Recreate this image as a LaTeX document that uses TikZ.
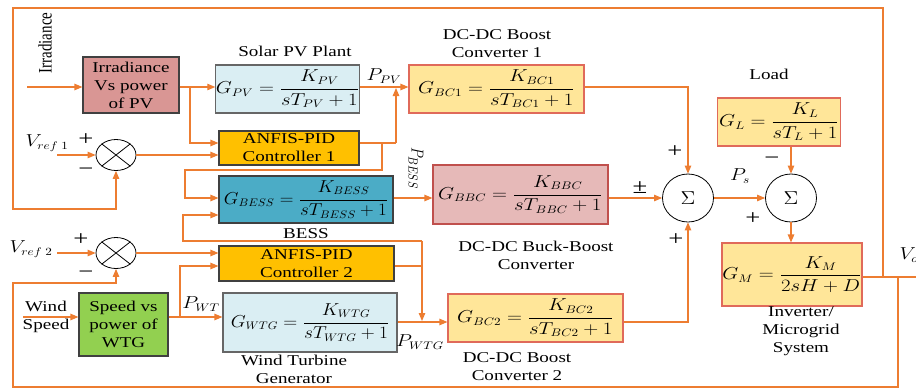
\documentclass[tikz,border=0pt]{standalone}
\usepackage{fontspec}
\setmainfont{Liberation Serif}[FakeStretch=1.27]
\newfontfamily\plainserif{Liberation Serif}
\usetikzlibrary{arrows.meta,shapes.geometric}
\definecolor{lnc}{HTML}{ED7D31}
\definecolor{irrf}{HTML}{D99694}
\definecolor{pvf}{HTML}{DAEEF3}
\definecolor{anf}{HTML}{FFC000}
\definecolor{bessf}{HTML}{4BACC6}
\definecolor{yelf}{HTML}{FFE699}
\definecolor{bbcf}{HTML}{E6B9B8}
\definecolor{grnf}{HTML}{92D050}
\definecolor{redb}{HTML}{E06A5A}
\definecolor{bbcb}{HTML}{C0504D}
\definecolor{dk}{HTML}{404040}
\newcommand\mxs[2]{\scalebox{#1}[1]{\fontsize{16}{19}\selectfont$\displaystyle #2$}}
\newcommand\mx[1]{\mxs{1.2}{#1}}
\newcommand\bigsig{\scalebox{1.45}[1.3]{\fontsize{15}{18}\selectfont$\Sigma$}}
\begin{document}
\begin{tikzpicture}[x=1pt,y=-1pt,
  every node/.style={font=\fontsize{15}{18}\selectfont},
  ln/.style={draw=lnc, line width=1.1pt},
  arr/.style={ln, -{Triangle[length=8pt,width=6.5pt]}},
  box/.style={draw=dk, line width=1.1pt, inner sep=0pt, align=center},
  sumx/.style={draw, ellipse, line width=0.8pt, inner sep=0pt, minimum width=40pt, minimum height=31pt},
  sigma/.style={draw, ellipse, line width=0.8pt, inner sep=0pt, minimum width=51pt, minimum height=48pt},
  lab/.style={align=center, inner sep=0pt},
  sgn/.style={inner sep=0pt, font=\fontsize{21}{21}\selectfont}]
\useasboundingbox (0,0) rectangle (916,389);

% blocks
\node[box, fill=irrf, minimum width=96pt, minimum height=56pt] (irr) at (131,85) {Irradiance\\Vs power\\of PV};
\node[box, fill=pvf, draw=gray!80!black, minimum width=141pt, minimum height=48pt] (gpv) at (287.5,89) {\mx{G_{PV}=\frac{K_{PV}}{sT_{PV}+1}}};
\node[box, fill=yelf, draw=redb, minimum width=175pt, minimum height=48pt] (bc1) at (496.5,89) {\mx{G_{BC1}=\frac{K_{BC1}}{sT_{BC1}+1}}};
\node[box, fill=anf, minimum width=140pt, minimum height=34pt] (anfis1) at (289,148) {ANFIS-PID\\Controller 1};
\node[box, fill=bessf, minimum width=174pt, minimum height=47pt] (gbess) at (306,199.5) {\mxs{1.1}{G_{BESS}=\frac{K_{BESS}}{sT_{BESS}+1}}};
\node[box, fill=bbcf, draw=bbcb, minimum width=175pt, minimum height=59pt] (bbc) at (520.5,194.5) {\mx{G_{BBC}=\frac{K_{BBC}}{sT_{BBC}+1}}};
\node[box, fill=anf, minimum width=175pt, minimum height=35pt] (anfis2) at (306.5,263.5) {ANFIS-PID\\Controller 2};
\node[box, fill=grnf, minimum width=89pt, minimum height=63pt] (wtgp) at (123.5,324.5) {Speed vs\\power of\\WTG};
\node[box, fill=pvf, draw=gray!80!black, minimum width=174pt, minimum height=59pt] (gwtg) at (310,322.5) {\mxs{1.12}{G_{WTG}=\frac{K_{WTG}}{sT_{WTG}+1}}};
\node[box, fill=yelf, draw=redb, minimum width=175pt, minimum height=48pt] (bc2) at (535.5,318) {\mx{G_{BC2}=\frac{K_{BC2}}{sT_{BC2}+1}}};
\node[box, fill=yelf, draw=redb, minimum width=123pt, minimum height=48pt] (gl) at (779,122) {\mx{G_{L}=\frac{K_{L}}{sT_{L}+1}}};
\node[box, fill=yelf, draw=redb, minimum width=140pt, minimum height=63pt] (gm) at (792,274.5) {\mx{G_{M}=\frac{K_{M}}{2sH+D}}};

% summing junctions
\node[sumx] (x1) at (116,155) {};
\draw[line width=0.8pt] (x1.north west) -- (x1.south east) (x1.north east) -- (x1.south west);
\node[sumx] (x2) at (116,253) {};
\draw[line width=0.8pt] (x2.north west) -- (x2.south east) (x2.north east) -- (x2.south west);
\node[sigma] (s1) at (688,198) {\bigsig};
\node[sigma] (s2) at (791,198) {\bigsig};

% labels
\node[rotate=90, lab] (irrlab) at (45,43) {\scalebox{1}[1.27]{\plainserif Irradiance}};
\node[lab] (solar) at (295,51) {Solar PV Plant};
\node[lab] (bc1lab) at (497,44) {DC-DC Boost\\Converter 1};
\node[lab] (load) at (769,74) {Load};
\node[lab] (besslab) at (306,234) {BESS};
\node[lab] (bbclab) at (536,255) {DC-DC Buck-Boost\\Converter};
\node[lab] (wtglab) at (294,369) {Wind Turbine\\Generator};
\node[lab] (bc2lab) at (517,367) {DC-DC Boost\\Converter 2};
\node[lab] (gmlab) at (801,331) {Inverter/\\Microgrid\\System};
\node[lab] (wind) at (46,317) {Wind\\Speed};
\node[lab] (vr1) at (47,143) {\mx{V_{ref\;1}}};
\node[lab] (vr2) at (31,249) {\mx{V_{ref\;2}}};
\node[lab] (ppv) at (384,76) {\mx{P_{PV}}};
\node[lab, rotate=-90] (pbess) at (416,168) {\scalebox{1}[1.2]{\fontsize{15}{18}\selectfont$P_{BESS}$}};
\node[lab] (pwt) at (201,304) {\mx{P_{WT}}};
\node[lab] (pwtg) at (420,342) {\mx{P_{WTG}}};
\node[lab] (ps) at (740,176) {\mx{P_{s}}};
\node[lab] (vo) at (909,255) {\mx{V_{o}}};
\node[sgn] (p1) at (86,140) {+};
\node[sgn] (m1) at (86,172) {−};
\node[sgn] (p2) at (81,240) {+};
\node[sgn] (m2) at (86,275) {−};
\node[sgn] (p3) at (675,152) {+};
\node[sgn] (pm) at (640,188) {±};
\node[sgn] (p4) at (676,240) {+};
\node[sgn] (m3) at (772,161) {−};
\node[sgn] (p5) at (753,219) {+};

% helper coordinates
\coordinate (irrin) at (27,87);
\coordinate (br1) at (190,87);
\coordinate (y143) at (0,143);
\coordinate (vr1in) at (57,155);
\coordinate (a1o) at (396,143);
\coordinate (a1t) at (396,88);
\coordinate (br2) at (382,143);
\coordinate (c170) at (185,170);
\coordinate (y198) at (0,198);
\coordinate (j241) at (422,241);
\coordinate (c241) at (183,241);
\coordinate (y215) at (0,215);
\coordinate (y266) at (0,266);
\coordinate (j322) at (422,321);
\coordinate (y322) at (0,322);
\coordinate (vr2in) at (57,253);
\coordinate (win) at (23,317);
\coordinate (br3) at (180,317);
\coordinate (c688) at (688,322);
\coordinate (vo1) at (883,277);
\coordinate (tr) at (883,8);
\coordinate (tl) at (13,8);
\coordinate (l209) at (13,209);
\coordinate (vo2) at (898,277);
\coordinate (brc) at (898,387);
\coordinate (blc) at (13,387);
\coordinate (l283) at (13,283);
\coordinate (vout) at (916,277);

% connectors
\draw[arr] (irrin) -- (irr.west |- irrin);
\draw[arr] (irr.east |- irrin) -- (gpv.west |- irrin);
\draw[arr] (br1) |- (anfis1.west |- y143);
\draw[arr] (vr1in) -- (x1.west);
\draw[arr] (x1.east) -- (anfis1.west |- x1.east);
\draw[arr] (gpv.east |- irrin) -- (bc1.west |- irrin);
\draw[ln] (anfis1.east |- y143) -- (a1o);
\draw[arr] (a1o) -- (a1t);
\draw[arr] (br2) |- (c170) |- (gbess.west |- y198);
\draw[arr] (gbess.east |- y198) -- (bbc.west |- y198);
\draw[arr] (j241) -- (c241) |- (gbess.west |- y215);
\draw[ln] (anfis2.east |- y266) -- (j241 |- y266);
\draw[arr] (j241) -- (j322);
\draw[arr] (vr2in) -- (x2.west);
\draw[arr] (x2.east) -- (anfis2.west |- x2.east);
\draw[arr] (vo1) -- (tr) -- (tl) -- (l209) -| (x1.south);
\draw[arr] (vo2) -- (brc) -- (blc) -- (l283) -| (x2.south);
\draw[arr] (win) -- (wtgp.west |- win);
\draw[arr] (wtgp.east |- win) -- (gwtg.west |- win);
\draw[arr] (br3) |- (anfis2.west |- y266);
\draw[arr] (gwtg.east |- y322) -- (bc2.west |- y322);
\draw[arr] (bc2.east |- y322) -- (c688) -- (s1.south);
\draw[arr] (bc1.east |- irrin) -| (s1.north);
\draw[arr] (bbc.east |- y198) -- (s1.west);
\draw[arr] (s1.east) -- (s2.west);
\draw[arr] (gl.south -| s2.north) -- (s2.north);
\draw[arr] (s2.south) -- (s2.south |- gm.north);
\draw[ln] (gm.east |- vo1) -- (vout);
\end{tikzpicture}
\end{document}
